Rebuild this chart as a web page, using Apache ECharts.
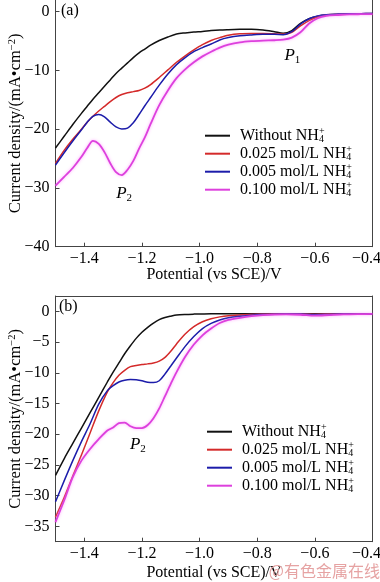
<!DOCTYPE html>
<html><head><meta charset="utf-8">
<script src="https://cdn.jsdelivr.net/npm/echarts@6/dist/echarts.min.js"></script>
<style>html,body{margin:0;padding:0;background:#fff}#c{width:380px;height:582px}</style>
</head><body><div id="c"></div>
<script>
// ---- data ----
const seriesNames = ['Without', '0.025 mol/L', '0.005 mol/L', '0.100 mol/L'];
const seriesColors = ['#111111', '#d42a2a', '#1c1caa', '#dd40dd'];

const xA = [-1.50,-1.47,-1.44,-1.41,-1.39,-1.37,-1.35,-1.33,-1.31,-1.29,-1.27,-1.25,-1.23,-1.21,-1.19,-1.17,-1.14,-1.11,-1.08,-1.05,-1.02,-0.99,-0.96,-0.93,-0.90,-0.86,-0.82,-0.78,-0.74,-0.71,-0.68,-0.65,-0.62,-0.59,-0.56,-0.52,-0.48,-0.44,-0.40];
const aBlack = [-23.2,-21.2,-19.2,-17.3,-16.1,-14.9,-13.8,-12.7,-11.6,-10.5,-9.6,-8.7,-7.8,-7.0,-6.35,-5.7,-4.9,-4.3,-3.8,-3.6,-3.45,-3.35,-3.2,-3.1,-3.05,-3.0,-2.97,-3.1,-3.4,-3.65,-3.2,-2.0,-1.2,-0.75,-0.5,-0.42,-0.36,-0.33,-0.3];
const aRed = [-25.8,-23.6,-21.7,-20.0,-18.8,-17.8,-16.9,-16.1,-15.3,-14.6,-14.1,-13.8,-13.6,-13.4,-13.0,-12.4,-11.2,-9.9,-8.6,-7.5,-6.5,-5.6,-4.9,-4.4,-4.0,-3.75,-3.7,-3.7,-3.75,-3.8,-3.5,-2.4,-1.5,-0.9,-0.6,-0.45,-0.4,-0.37,-0.35];
const aBlue = [-26.1,-24.0,-22.0,-20.1,-18.8,-17.8,-17.5,-17.9,-18.8,-19.6,-19.95,-19.8,-18.9,-17.5,-16.0,-14.6,-12.5,-10.6,-9.0,-7.8,-6.8,-6.1,-5.5,-4.8,-4.4,-4.1,-3.95,-3.85,-3.85,-3.9,-3.4,-2.1,-1.2,-0.7,-0.5,-0.4,-0.35,-0.32,-0.3];
const aMagenta = [-29.6,-28.1,-26.6,-24.7,-23.2,-22.0,-22.5,-23.9,-25.8,-27.3,-27.8,-26.9,-25.4,-23.3,-21.4,-19.1,-15.9,-13.4,-11.3,-9.8,-8.6,-7.6,-6.8,-6.1,-5.6,-5.2,-5.0,-4.9,-4.85,-4.75,-4.4,-3.5,-2.0,-1.1,-0.7,-0.55,-0.45,-0.42,-0.4];

const xB = [-1.50,-1.47,-1.44,-1.41,-1.38,-1.35,-1.32,-1.30,-1.28,-1.26,-1.24,-1.22,-1.20,-1.18,-1.16,-1.14,-1.12,-1.10,-1.08,-1.05,-1.02,-0.99,-0.96,-0.93,-0.90,-0.86,-0.82,-0.78,-0.74,-0.70,-0.65,-0.60,-0.55,-0.50,-0.45,-0.40];
const bBlack = [-26.7,-24.0,-21.5,-19.0,-16.5,-14.0,-11.5,-9.9,-8.4,-6.9,-5.6,-4.4,-3.4,-2.6,-1.9,-1.35,-1.0,-0.78,-0.6,-0.5,-0.45,-0.42,-0.4,-0.4,-0.4,-0.4,-0.4,-0.4,-0.4,-0.4,-0.4,-0.4,-0.4,-0.4,-0.4,-0.4];
const bRed = [-33.5,-30.3,-26.8,-23.4,-19.8,-16.2,-13.1,-11.6,-10.4,-9.6,-9.0,-8.8,-8.65,-8.55,-8.4,-8.1,-7.5,-6.5,-5.3,-3.7,-2.5,-1.7,-1.2,-0.9,-0.72,-0.6,-0.52,-0.48,-0.45,-0.45,-0.45,-0.5,-0.45,-0.45,-0.45,-0.45];
const bBlue = [-31.0,-27.6,-24.3,-21.2,-18.3,-15.1,-12.9,-12.1,-11.5,-11.2,-11.1,-11.15,-11.3,-11.55,-11.6,-11.3,-10.2,-8.9,-7.6,-5.7,-4.1,-2.8,-1.95,-1.4,-1.05,-0.8,-0.62,-0.52,-0.47,-0.45,-0.45,-0.55,-0.5,-0.45,-0.45,-0.45];
const bMagenta = [-34.3,-30.8,-27.0,-24.3,-22.4,-20.8,-19.4,-18.9,-18.2,-18.1,-18.7,-19.0,-19.0,-18.5,-17.4,-15.8,-13.8,-11.8,-9.9,-7.4,-5.4,-3.9,-2.8,-1.9,-1.4,-1.05,-0.78,-0.6,-0.52,-0.5,-0.55,-0.7,-0.6,-0.5,-0.45,-0.42];

const xTicks = [-1.4,-1.2,-1.0,-0.8,-0.6,-0.4];
const yTicksA = [0,-10,-20,-30,-40];
const yTicksB = [0,-5,-10,-15,-20,-25,-30,-35];

// ---- chart ----
const FONT = 'Liberation Serif';
const pair = (xs, ys) => xs.map((x, i) => [x, ys[i]]);
const minus = v => (v < 0 ? '\u2212' : '') + Math.abs(v);
const minusX = v => {
  const t = (v < 0 ? '\u2212' : '') + Math.abs(v).toFixed(1);
  return v === xTicks[xTicks.length - 1] ? '{r|' + t + '}' : t;
};

const richBase = {
  sup: { fontSize: 10, lineHeight: 9, verticalAlign: 'top', width: 0, fontFamily: FONT, color: '#000' },
  sub: { fontSize: 10, lineHeight: 9, verticalAlign: 'bottom', fontFamily: FONT, color: '#000' }
};

function xAxisMain(grid, gap) {
  return {
    type: 'value', gridIndex: grid, min: -1.5, max: -0.4, position: 'bottom',
    name: 'Potential (vs SCE)/V', nameLocation: 'middle', nameGap: gap, nameMoveOverlap: false,
    nameTextStyle: { fontFamily: FONT, fontSize: 16, color: '#000' },
    axisLine: { show: true, onZero: false, lineStyle: { color: '#444', width: 1 } },
    axisTick: { show: true, inside: true, length: 4, customValues: xTicks, lineStyle: { color: '#444' } },
    axisLabel: { customValues: xTicks, formatter: minusX, fontFamily: FONT, fontSize: 16, color: '#000', margin: 4,
      rich: { r: { fontFamily: FONT, fontSize: 16, color: '#000', padding: [0, 12, 0, 0] } } },
    splitLine: { show: false }
  };
}
function yAxisMain(grid, min, max, ticks) {
  return {
    type: 'value', gridIndex: grid, min: min, max: max, position: 'left',
    name: 'Current density/(mA\u2022cm{sup2|\u22122})', nameLocation: 'middle', nameGap: 31, nameRotate: 90,
    nameMoveOverlap: false,
    nameTextStyle: { fontFamily: FONT, fontSize: 16.5, color: '#000', lineHeight: 18,
      rich: { sup2: { fontSize: 10.5, lineHeight: 9, verticalAlign: 'top', fontFamily: FONT, color: '#000' } } },
    axisLine: { show: true, onZero: false, lineStyle: { color: '#444', width: 1 } },
    axisTick: { show: true, inside: true, length: 4, customValues: ticks, lineStyle: { color: '#444' } },
    axisLabel: { customValues: ticks, formatter: minus, fontFamily: FONT, fontSize: 16, color: '#000', margin: 6 },
    splitLine: { show: false }
  };
}
function frameAxis(grid, pos, min, max) {
  return {
    type: 'value', gridIndex: grid, position: pos, min: min, max: max,
    axisLine: { show: true, onZero: false, lineStyle: { color: '#444', width: 1 } },
    axisTick: { show: false }, axisLabel: { show: false }, splitLine: { show: false }
  };
}

function lineSeries(name, color, data, xi, yi, extra) {
  const mag = name === seriesNames[3];
  const s = {
    type: 'line', name: name, data: data, xAxisIndex: xi, yAxisIndex: yi,
    showSymbol: false, symbol: 'none', smooth: 0.3,
    lineStyle: { color: color, width: mag ? 1.8 : 1.5,
      shadowColor: mag ? 'rgba(255,120,255,0.7)' : 'transparent', shadowBlur: mag ? 3 : 0 },
    itemStyle: { color: color }, z: 2
  };
  return Object.assign(s, extra || {});
}

function pMark(coord, sub) {
  return {
    symbol: 'circle', symbolSize: 0, silent: true,
    label: { show: true, position: 'inside', formatter: '{p|P}{s|' + sub + '}',
      rich: {
        p: { fontFamily: FONT, fontStyle: 'italic', fontSize: 17, lineHeight: 20, color: '#000' },
        s: { fontFamily: FONT, fontSize: 11, lineHeight: 8, verticalAlign: 'bottom', color: '#000' }
      } },
    data: [{ coord: coord }]
  };
}

const aData = [aBlack, aRed, aBlue, aMagenta];
const bData = [bBlack, bRed, bBlue, bMagenta];
const series = [];
seriesNames.forEach((n, i) => {
  series.push(lineSeries(n, seriesColors[i], pair(xA, aData[i]), 0, 0,
    i === 0 ? { markPoint: pMark([-0.678, -7.4], '1') } : (i === 3 ? { markPoint: pMark([-1.262, -30.9], '2') } : null)));
});
seriesNames.forEach((n, i) => {
  series.push(lineSeries(n, seriesColors[i], pair(xB, bData[i]), 1, 2,
    i === 3 ? { markPoint: pMark([-1.214, -21.7], '2') } : null));
});

function legendAt(left, top) {
  return {
    data: seriesNames, orient: 'vertical', left: left, top: top, padding: 0, itemGap: 0,
    icon: 'rect', itemWidth: 25, itemHeight: 2, selectedMode: false,
    formatter: n => n + ' NH{sup|+}{sub|4}',
    textStyle: { fontFamily: FONT, fontSize: 16, color: '#000', lineHeight: 18, padding: [0, 0, 0, 5], rich: richBase }
  };
}

const option = {
  animation: false,
  backgroundColor: '#fff',
  grid: [
    { left: 55.5, width: 317, top: 0, height: 246.7, containLabel: false, outerBoundsMode: 'none' },
    { left: 55.5, width: 317, top: 296, height: 245.7, containLabel: false, outerBoundsMode: 'none' }
  ],
  xAxis: [ xAxisMain(0, 20), xAxisMain(1, 23), frameAxis(1, 'top', -1.5, -0.4) ],
  yAxis: [ yAxisMain(0, -40, 2, yTicksA), frameAxis(0, 'right', -40, 2),
           yAxisMain(1, -37.5, 2.5, yTicksB), frameAxis(1, 'right', -37.5, 2.5) ],
  legend: [ legendAt(205, 126.7), legendAt(207, 422.7) ],
  series: series,
  graphic: [
    { type: 'text', left: 61, top: 3, style: { text: '(a)', font: '16px "Liberation Serif"', fill: '#000' } },
    { type: 'text', left: 59, top: 299, style: { text: '(b)', font: '16px "Liberation Serif"', fill: '#000' } },
    { type: 'text', right: 0, top: 563, z: 100, style: { text: '@有色金属在线', font: '16px "Noto Sans CJK SC"', fill: '#e6a3a3' } }
  ]
};

const chart = echarts.init(document.getElementById('c'), null, { renderer: 'canvas' });
chart.setOption(option);
</script>
</body></html>
